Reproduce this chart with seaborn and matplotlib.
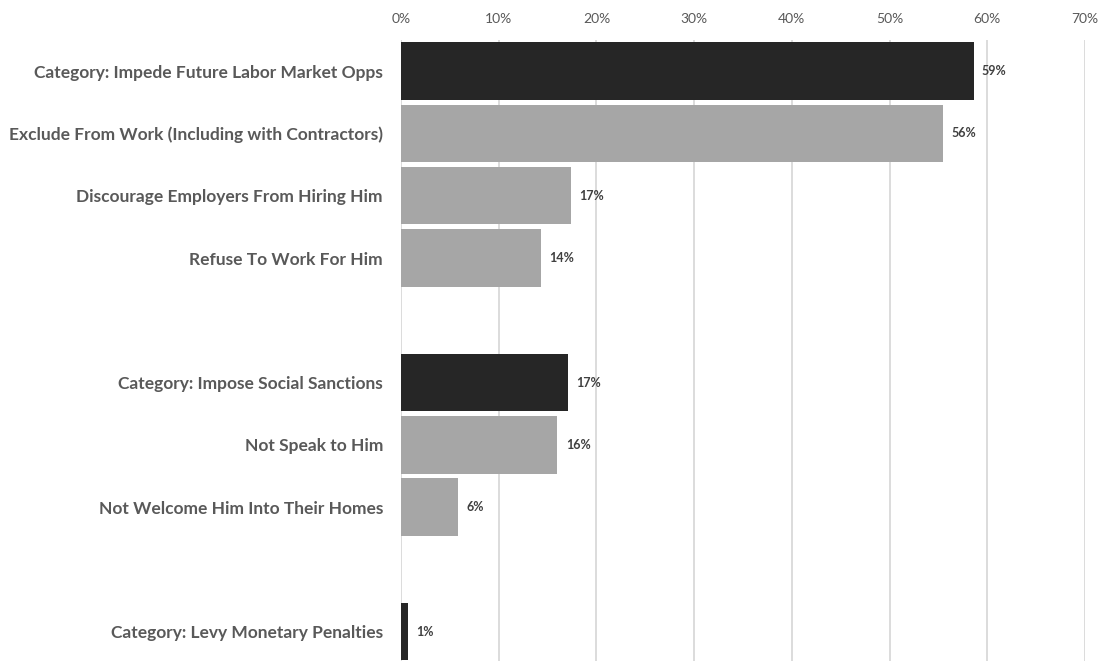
import numpy as np
import pandas as pd
import matplotlib
matplotlib.use("Agg")
import matplotlib.pyplot as plt
import seaborn as sns

# ---- data ----
row_labels = [
    "Category: Impede Future Labor Market Opps",
    "Exclude From Work (Including with Contractors)",
    "Discourage Employers From Hiring Him",
    "Refuse To Work For Him",
    "",
    "Category: Impose Social Sanctions",
    "Not Speak to Him",
    "Not Welcome Him Into Their Homes",
    " ",
    "Category: Levy Monetary Penalties",
]
bar_labels = [
    "Category: Impede Future Labor Market Opps",
    "Exclude From Work (Including with Contractors)",
    "Discourage Employers From Hiring Him",
    "Refuse To Work For Him",
    "Category: Impose Social Sanctions",
    "Not Speak to Him",
    "Not Welcome Him Into Their Homes",
    "Category: Levy Monetary Penalties",
]
values = [58.6, 55.5, 17.4, 14.3, 17.1, 16.0, 5.8, 0.7]
kinds = ["Category", "Item", "Item", "Item", "Category", "Item", "Item", "Category"]
value_text = ["59%", "56%", "17%", "14%", "17%", "16%", "6%", "1%"]
tick_values = [0, 10, 20, 30, 40, 50, 60, 70]
tick_text = ["0%", "10%", "20%", "30%", "40%", "50%", "60%", "70%"]
palette = {"Category": "#262626", "Item": "#a6a6a6"}

df = pd.DataFrame({"label": bar_labels, "value": values, "kind": kinds})

sns.set_theme(style="white")
plt.rcParams["font.family"] = ["Lato", "DejaVu Sans"]

W, H = 1101, 661
fig = plt.figure(figsize=(W / 100, H / 100), dpi=100)
ax = fig.add_axes([401 / W, 0, (1085 - 401) / W, (H - 40) / H])

sns.barplot(data=df, y="label", x="value", hue="kind", order=row_labels,
            palette=palette, orient="h", dodge=False, width=0.92,
            legend=False, ax=ax, zorder=3, linewidth=0)

ax.set_xlim(0, 70)
ax.set_ylim(9.47, -0.5)
ax.xaxis.tick_top()
ax.set_xticks(tick_values)
ax.set_xticklabels(tick_text, fontsize=10, color="#595959")
ax.tick_params(axis="x", length=0, pad=11)
ax.tick_params(axis="y", length=0, pad=13)
for t in ax.get_yticklabels():
    t.set_fontsize(12.5)
    t.set_fontweight("bold")
    t.set_color("#595959")
ax.set_xlabel("")
ax.set_ylabel("")
ax.grid(axis="x", color="#d9d9d9", linewidth=1.3, zorder=0)
ax.grid(axis="y", visible=False)
for s in ax.spines.values():
    s.set_visible(False)

for lab, v, txt in zip(bar_labels, values, value_text):
    y = row_labels.index(lab)
    ax.annotate(txt, xy=(v, y), xytext=(6, 0), textcoords="offset points",
                va="center", ha="left", fontsize=9, fontweight="bold",
                color="#404040")

fig.savefig("out.png", dpi=100)
